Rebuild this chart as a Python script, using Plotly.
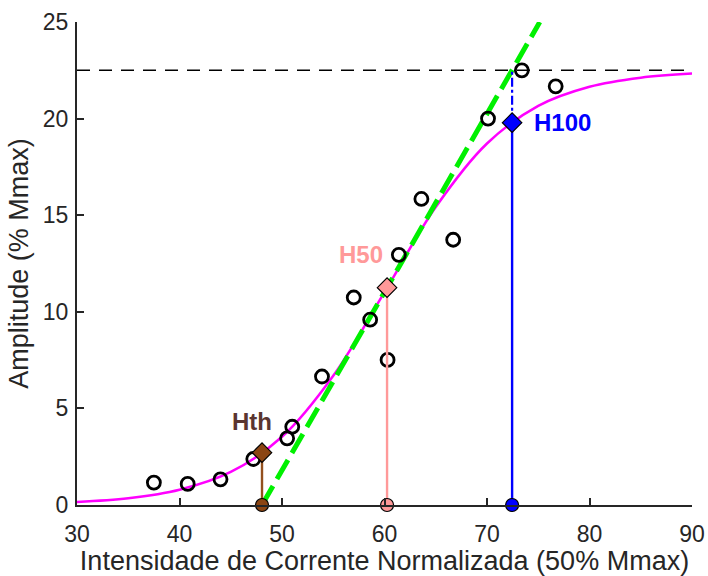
import plotly.graph_objects as go

# Measured data (circles)
data_x = [37.5, 40.8, 44.0, 47.2, 50.5, 51.0, 53.9, 57.0, 58.6, 60.3, 61.4, 63.6, 66.7, 70.1, 73.4, 76.7]
data_y = [1.16, 1.09, 1.33, 2.38, 3.45, 4.05, 6.65, 10.74, 9.59, 7.51, 12.95, 15.84, 13.73, 20.0, 22.5, 21.67]

# Fitted curve, values
curve_x = [30, 35, 40, 45, 50, 55, 60, 65, 70, 75, 80, 85, 90]
curve_y = [0.16, 0.35, 0.79, 1.71, 3.53, 6.69, 11.02, 15.42, 18.71, 20.66, 21.65, 22.12, 22.33]

# Tangent line end points
tangent_x = [48.05, 75.15]
tangent_y = [0.0, 25.0]

# Plateau level
plateau = 22.5
x_range = [30, 90]

# Thresholds
hth_x, hth_y = 48.05, 2.71
h50_x, h50_y = 60.25, 11.25
h100_x, h100_y = 72.45, 19.79

x_ticks = [30, 40, 50, 60, 70, 80, 90]
y_ticks = [0, 5, 10, 15, 20, 25]

FONT = "Liberation Sans, Arial, Helvetica, sans-serif"
TXT = "#262626"
BROWN_M = "#8B4513"
BROWN_L = "#93501E"
BROWN_T = "#5A3530"
PINK = "#FF9999"
BLUE = "#0000FF"

fig = go.Figure()

fig.add_trace(go.Scatter(x=curve_x, y=curve_y, mode="lines", line_shape="spline",
                         line=dict(color="#FF00FF", width=2.5), showlegend=False))
fig.add_trace(go.Scatter(x=tangent_x, y=tangent_y, mode="lines",
                         line=dict(color="#00F000", width=5, dash="22px,8px"), showlegend=False))
fig.add_trace(go.Scatter(x=data_x, y=data_y, mode="markers",
                         marker=dict(symbol="circle-open", size=13, color="black",
                                     line=dict(width=2.8, color="black")),
                         showlegend=False))
fig.add_trace(go.Scatter(x=x_range, y=[plateau, plateau], mode="lines",
                         line=dict(color="black", width=1.4, dash="13px,9px"), showlegend=False))

# stems
fig.add_trace(go.Scatter(x=[hth_x, hth_x], y=[0, hth_y], mode="lines",
                         line=dict(color=BROWN_L, width=2.4), showlegend=False))
fig.add_trace(go.Scatter(x=[h50_x, h50_x], y=[0, h50_y], mode="lines",
                         line=dict(color=PINK, width=2.4), showlegend=False))
fig.add_trace(go.Scatter(x=[h100_x, h100_x], y=[0, h100_y], mode="lines",
                         line=dict(color=BLUE, width=2.4), showlegend=False))
fig.add_trace(go.Scatter(x=[h100_x, h100_x], y=[h100_y, plateau], mode="lines",
                         line=dict(color=BLUE, width=2.2, dash="dashdot"), showlegend=False))

for xx, yy, col in [(hth_x, hth_y, BROWN_M), (h50_x, h50_y, PINK), (h100_x, h100_y, BLUE)]:
    fig.add_trace(go.Scatter(x=[xx], y=[yy], mode="markers",
                             marker=dict(symbol="diamond", size=15, color=col,
                                         line=dict(width=1.2, color="black")),
                             showlegend=False, cliponaxis=False))
    fig.add_trace(go.Scatter(x=[xx], y=[0], mode="markers",
                             marker=dict(symbol="circle", size=13, color=col,
                                         line=dict(width=1.2, color="black")),
                             showlegend=False, cliponaxis=False))

fig.add_annotation(x=hth_x - 0.95, y=hth_y + 1.6, text="<b>Hth</b>", showarrow=False,
                   font=dict(family=FONT, size=24, color=BROWN_T))
fig.add_annotation(x=h50_x - 2.55, y=h50_y + 1.7, text="<b>H50</b>", showarrow=False,
                   font=dict(family=FONT, size=24, color=PINK))
fig.add_annotation(x=h100_x + 1.9, y=h100_y, text="<b>H100</b>", showarrow=False,
                   xanchor="left", font=dict(family=FONT, size=24, color=BLUE))

fig.update_layout(
    width=708, height=576,
    margin=dict(l=77, r=16, t=22, b=71),
    paper_bgcolor="white", plot_bgcolor="white",
    font=dict(family=FONT, color=TXT),
    xaxis=dict(range=x_range, tickvals=x_ticks, ticks="inside", ticklen=7, tickwidth=2,
               tickcolor=TXT, showline=True, linecolor=TXT, linewidth=2, showgrid=False,
               zeroline=False, tickfont=dict(size=23, color=TXT), automargin=False,
               ticklabelstandoff=7,
               title=dict(text="Intensidade de Corrente Normalizada (50% Mmax)",
                          font=dict(size=27, color=TXT), standoff=4)),
    yaxis=dict(range=[0, 25], tickvals=y_ticks, ticks="inside", ticklen=7, tickwidth=2,
               tickcolor=TXT, showline=True, linecolor=TXT, linewidth=2, showgrid=False,
               zeroline=False, tickfont=dict(size=23, color=TXT), automargin=False,
               ticklabelstandoff=2,
               title=dict(text="Amplitude (% Mmax)", font=dict(size=27, color=TXT), standoff=6)),
)

fig.write_html("out.html")
